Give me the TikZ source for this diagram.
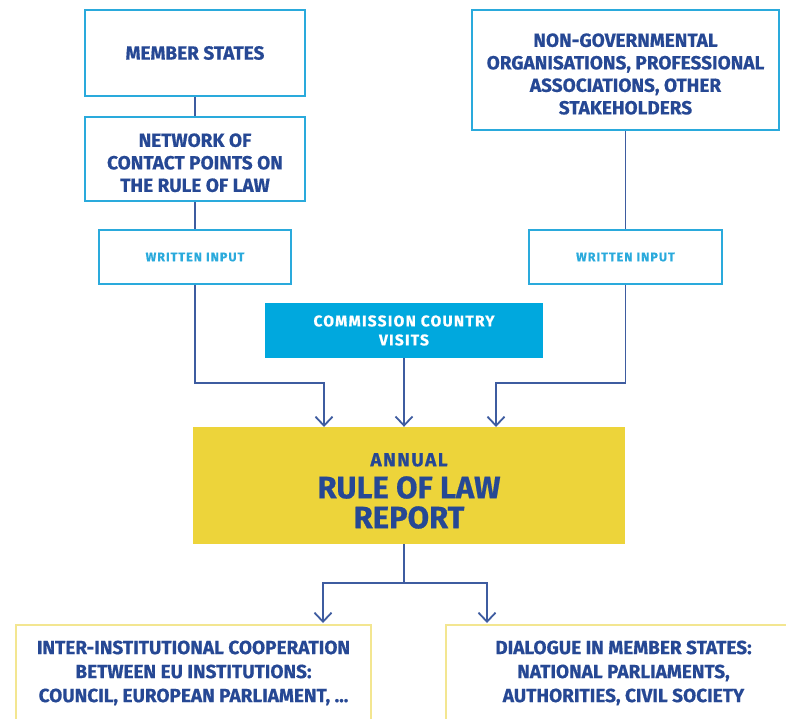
\documentclass[tikz,border=0pt]{standalone}
\usepackage{fontspec}
\newfontfamily\eufont{Fira Sans}[FakeBold=0.6]
\newfontfamily\euspaced{Fira Sans}[LetterSpace=8, FakeBold=0.6]
\usetikzlibrary{arrows.meta}
\definecolor{eunavy}{RGB}{38,72,148}
\definecolor{euline}{RGB}{62,92,160}
\definecolor{eucyan}{RGB}{42,170,220}
\definecolor{eufill}{RGB}{0,168,222}
\definecolor{euyellow}{RGB}{237,212,58}
\definecolor{eupale}{RGB}{243,230,145}
\tikzset{
  srcbox/.style={draw=eucyan, line width=2pt, text=eunavy, align=center, inner sep=0pt,
    font=\eufont\bfseries\fontsize{19}{22.5}\selectfont},
  inbox/.style={draw=eucyan, line width=1.8pt, text=eucyan, align=center, inner sep=0pt,
    minimum height=54pt, font=\euspaced\bfseries\fontsize{12.5}{14}\selectfont},
  outbox/.style={text=eunavy, align=center, inner sep=0pt, minimum width=355pt, minimum height=96pt,
    font=\eufont\bfseries\fontsize{19}{24}\selectfont},
  paleline/.style={draw=eupale, line width=2pt},
  link/.style={draw=euline, line width=1.8pt},
  arr/.style={link, -{Straight Barb[length=9pt,width=17pt]}},
}
\begin{document}
\begin{tikzpicture}[x=1pt, y=-1pt]
  \useasboundingbox (0,0) rectangle (786,718);
  \clip (0,0) rectangle (786,718);
  % sources
  \node [srcbox, minimum width=220pt, minimum height=86pt] (ms) at (195,53) {MEMBER STATES};
  \node [srcbox, minimum width=220pt, minimum height=84pt, text height=66pt] (net) at (195,159) {NETWORK OF\\CONTACT POINTS ON\\THE RULE OF LAW};
  \node [srcbox, minimum width=307pt, minimum height=120pt, text height=89pt] (ngo) at (625.5,70) {NON-GOVERNMENTAL\\ORGANISATIONS, PROFESSIONAL\\ASSOCIATIONS, OTHER\\STAKEHOLDERS};
  \node [inbox, minimum width=192pt] (wil) at (195,257) {WRITTEN INPUT};
  \node [inbox, minimum width=193pt] (wir) at (625.5,257) {WRITTEN INPUT};
  \node [fill=eufill, text=white, align=center, inner sep=0pt, minimum width=278pt, minimum height=55pt,
    font=\euspaced\bfseries\fontsize{15.5}{19}\selectfont] (com) at (404,330.5) {COMMISSION COUNTRY\\VISITS};
  % report
  \node [fill=euyellow, text=eunavy, align=center, inner sep=0pt, minimum width=432pt, minimum height=117pt,
    text height=86pt, font=\eufont\bfseries\fontsize{31}{30}\selectfont] (rep) at (409,485.5)
    {\euspaced\fontsize{19}{20}\selectfont ANNUAL\\[2pt]
     \eufont\fontsize{31}{30}\selectfont RULE OF LAW\\REPORT};
  % follow-up
  \node [outbox] (coop) at (193.5,673) {INTER-INSTITUTIONAL COOPERATION\\BETWEEN EU INSTITUTIONS:\\COUNCIL, EUROPEAN PARLIAMENT, ...};
  \node [outbox] (dial) at (623.5,673) {DIALOGUE IN MEMBER STATES:\\NATIONAL PARLIAMENTS,\\AUTHORITIES, CIVIL SOCIETY};
  \draw [paleline] ([yshift=-30pt]coop.south west) |- (coop.north east) -- ([yshift=-30pt]coop.south east);
  \draw [paleline] ([yshift=-30pt]dial.south west) |- (dial.north east) -- ([yshift=-30pt]dial.south east);
  % connectors
  \coordinate (knee) at (0,383);
  \coordinate (fork) at (404,583);
  \coordinate (inL) at (324,427);
  \coordinate (inR) at (496,427);
  \coordinate (outL) at (323,623);
  \coordinate (outR) at (487,623);
  \draw [link] (ms) -- (net);
  \draw [link] (net) -- (wil);
  \draw [link] (ngo) -- (wir);
  \draw [arr] (wil.south) |- (inL |- knee) -- (inL);
  \draw [arr] (wir.south) |- (inR |- knee) -- (inR);
  \draw [arr] (com.south) -- (com.south |- rep.north);
  \draw [link] (fork |- rep.south) -- (fork);
  \draw [arr] (fork) -| (outL);
  \draw [arr] (fork) -| (outR);
\end{tikzpicture}
\end{document}
